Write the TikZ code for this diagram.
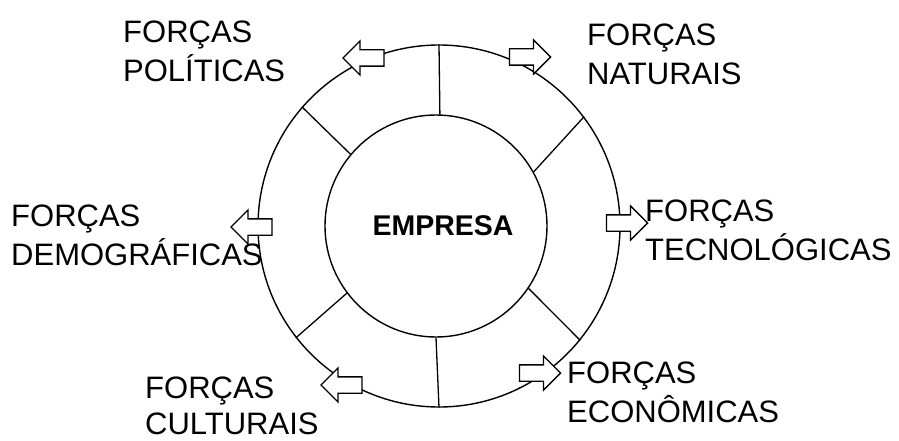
\documentclass[tikz,border=0pt]{standalone}
\usepackage{fontspec}
\setmainfont{Liberation Sans}
\usetikzlibrary{shapes.arrows}
\begin{document}
\begin{tikzpicture}[x=1pt,y=-1pt,
    forca/.style={anchor=base west,align=left,inner sep=0pt,font=\fontsize{31}{39}\selectfont},
    seta/.style={single arrow,draw,fill=white,line width=1.3pt,inner xsep=0pt,inner ysep=7.5pt,
      minimum height=41pt,minimum width=32pt,
      single arrow head extend=9pt,single arrow head indent=0pt}]
            \useasboundingbox (0,0) rectangle (899,441);
            \node[circle,draw,line width=1.4pt,minimum size=362pt,inner sep=0pt] (ext) at (439,226) {};
            \node[circle,draw,line width=1.4pt,minimum size=222pt,inner sep=0pt] (int) at (436,226) {};
            \foreach \a/\b in {90/88,37/29,139/140,218/217,270/270,321/326} {
                \draw[line width=1.3pt] (ext.\a) -- (int.\b);
            }
            \node[font=\bfseries\fontsize{28.5}{30}\selectfont] (empresa) at (443,226) {EMPRESA};
            \node[seta,shape border rotate=180] (spol) at (367.5,58) {};
            \node[seta] (snat) at (526,57) {};
            \node[seta,shape border rotate=180] (sdem) at (255.5,227) {};
            \node[seta] (stec) at (623,223) {};
            \node[seta,shape border rotate=180] (scul) at (345.5,385) {};
            \node[seta] (seco) at (536,373) {};
            \node[forca] (pol) at (123,82) {FORÇAS\\POLÍTICAS};
            \node[forca] (nat) at (587,85) {FORÇAS\\NATURAIS};
            \node[forca] (dem) at (11,265) {FORÇAS\\DEMOGRÁFICAS};
            \node[forca] (tec) at (645,260) {FORÇAS\\TECNOLÓGICAS};
            \node[forca,font=\fontsize{31}{36}\selectfont] (cul) at (145,434) {FORÇAS\\CULTURAIS};
            \node[forca] (eco) at (567,422) {FORÇAS\\ECONÔMICAS};
        \end{tikzpicture}
\end{document}
